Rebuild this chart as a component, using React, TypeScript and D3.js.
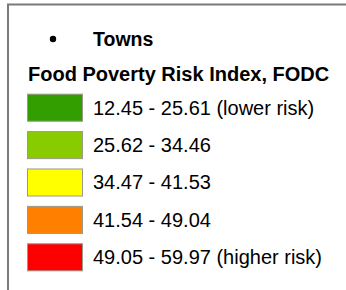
import { useEffect, useRef } from "react";
import * as d3 from "d3";

const classLabels = [
  "12.45 - 25.61 (lower risk)",
  "25.62 - 34.46",
  "34.47 - 41.53",
  "41.54 - 49.04",
  "49.05 - 59.97 (higher risk)",
];
const classColors = ["#339e00", "#88cc00", "#ffff00", "#ff8000", "#ff0000"];
const pointLabel = "Towns";
const legendTitle = "Food Poverty Risk Index, FODC";

const WIDTH = 346;
const HEIGHT = 290;

export default function App() {
  const svgRef = useRef<SVGSVGElement>(null);

  useEffect(() => {
    if (!svgRef.current) return;
    const svg = d3.select(svgRef.current);
    svg.selectAll("*").remove();

    const font = "'Liberation Sans', Arial, sans-serif";

    svg
      .append("rect")
      .attr("width", WIDTH)
      .attr("height", HEIGHT)
      .attr("fill", "#fff");

    // Frame (open on right and bottom, cut off)
    svg
      .append("path")
      .attr("d", `M8,${HEIGHT + 2} V4.5 H${WIDTH + 2}`)
      .attr("fill", "none")
      .attr("stroke", "#7a7a7a")
      .attr("stroke-width", 2);

    // Towns point symbol
    svg
      .append("circle")
      .attr("cx", 53)
      .attr("cy", 39)
      .attr("r", 3.2)
      .attr("fill", "#000");
    svg
      .append("text")
      .attr("x", 93)
      .attr("y", 46)
      .attr("font-family", font)
      .attr("font-weight", "bold")
      .attr("font-size", "19.5px")
      .attr("fill", "#000")
      .text(pointLabel);

    svg
      .append("text")
      .attr("x", 28)
      .attr("y", 81)
      .attr("font-family", font)
      .attr("font-weight", "bold")
      .attr("font-size", "20px")
      .attr("fill", "#000")
      .text(legendTitle);

    const y = d3
      .scaleBand<number>()
      .domain(d3.range(classLabels.length))
      .range([89, 276])
      .paddingInner(0.25)
      .paddingOuter(0.125);

    const rows = svg
      .append("g")
      .selectAll("g")
      .data(classLabels)
      .join("g")
      .attr("transform", (_, i) => `translate(0,${y(i)})`);

    rows
      .append("rect")
      .attr("x", 27.5)
      .attr("y", 0.5)
      .attr("width", 55)
      .attr("height", y.bandwidth() - 1)
      .attr("fill", (_, i) => classColors[i])
      .attr("stroke", "#9a9a8a")
      .attr("stroke-width", 1);

    rows
      .append("text")
      .attr("x", 93)
      .attr("y", y.bandwidth() / 2 + 7)
      .attr("font-family", font)
      .attr("font-size", "20px")
      .attr("fill", "#000")
      .text((d) => d);
  }, []);

  return (
    <svg
      ref={svgRef}
      width={WIDTH}
      height={HEIGHT}
      style={{ position: "absolute", left: 0, top: 0, display: "block" }}
    />
  );
}
